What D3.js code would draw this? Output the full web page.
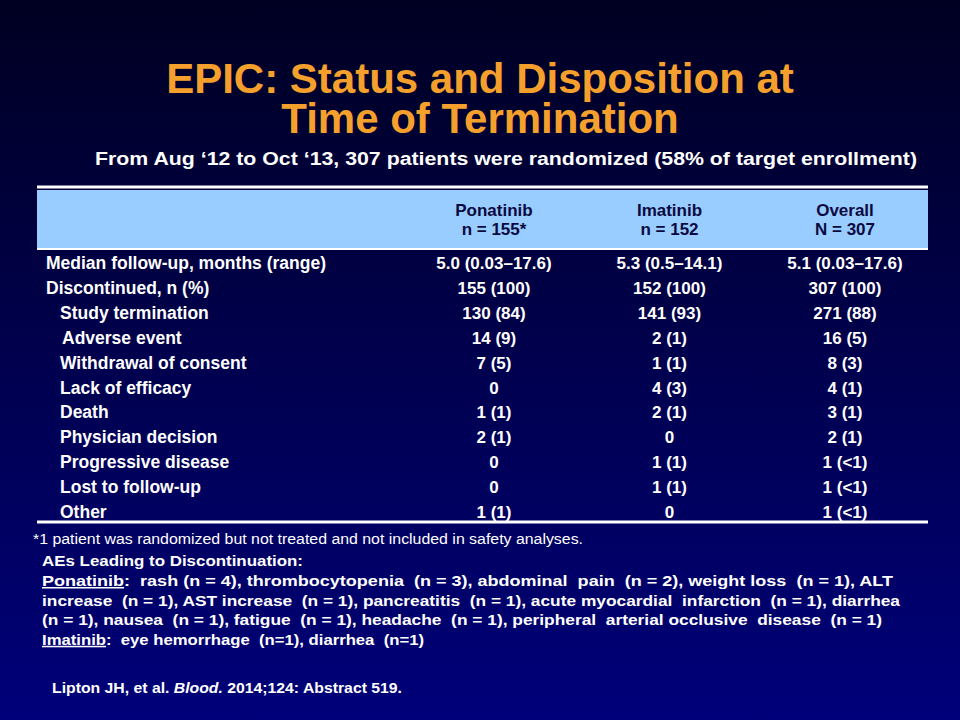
<!DOCTYPE html>
<html><head><meta charset="utf-8">
<script src="https://cdn.jsdelivr.net/npm/d3@7"></script>
<style>body{margin:0;background:#000}</style>
</head><body><div id="chart"></div>
<script>
var columns = ["Ponatinib", "Imatinib", "Overall"];
var columnNs = ["n = 155*", "n = 152", "N = 307"];
var rowLabels = ["Median follow-up, months (range)", "Discontinued, n (%)", "Study termination", "Adverse event",
  "Withdrawal of consent", "Lack of efficacy", "Death", "Physician decision", "Progressive disease", "Lost to follow-up", "Other"];
var rowIndent = [0, 0, 1, 1, 1, 1, 1, 1, 1, 1, 1];
var ponatinib = ["5.0 (0.03\u201317.6)", "155 (100)", "130 (84)", "14 (9)", "7 (5)", "0", "1 (1)", "2 (1)", "0", "0", "1 (1)"];
var imatinib = ["5.3 (0.5\u201314.1)", "152 (100)", "141 (93)", "2 (1)", "1 (1)", "4 (3)", "2 (1)", "0", "1 (1)", "1 (1)", "0"];
var overall = ["5.1 (0.03\u201317.6)", "307 (100)", "271 (88)", "16 (5)", "8 (3)", "4 (1)", "3 (1)", "2 (1)", "1 (<1)", "1 (<1)", "1 (<1)"];
var aeLines = [
  [["Ponatinib", true], [":  rash (n = 4), thrombocytopenia  (n = 3), abdominal  pain  (n = 2), weight loss  (n = 1), ALT", false]],
  [["increase  (n = 1), AST increase  (n = 1), pancreatitis  (n = 1), acute myocardial  infarction  (n = 1), diarrhea", false]],
  [["(n = 1), nausea  (n = 1), fatigue  (n = 1), headache  (n = 1), peripheral  arterial occlusive  disease  (n = 1)", false]],
  [["Imatinib", true], [":  eye hemorrhage  (n=1), diarrhea  (n=1)", false]]
];
var aeWidths = [851, 858, 840, 382];

var W = 960, H = 720, font = "'Liberation Sans', Arial, sans-serif";
var svg = d3.select("#chart").append("svg").attr("width", W).attr("height", H).style("font-family", font);
var grad = svg.append("defs").append("linearGradient").attr("id", "bg").attr("x1", 0).attr("y1", 0).attr("x2", 0).attr("y2", 1);
grad.append("stop").attr("offset", "0%").attr("stop-color", "#000022");
grad.append("stop").attr("offset", "100%").attr("stop-color", "#00007a");
svg.append("rect").attr("width", W).attr("height", H).attr("fill", "url(#bg)");

// title
svg.selectAll(".title").data(["EPIC: Status and Disposition at", "Time of Termination"]).enter().append("text")
  .attr("x", 480).attr("y", (d, i) => 93 + i * 40).attr("text-anchor", "middle")
  .attr("font-size", 42).attr("font-weight", "bold").attr("fill", "#F5A02C").text(d => d);
svg.append("text").attr("x", 95).attr("y", 165).attr("font-size", 17.5)
  .attr("font-weight", "bold").attr("fill", "#fff").attr("textLength", 822).attr("lengthAdjust", "spacingAndGlyphs")
  .text("From Aug \u201812 to Oct \u201813, 307 patients were randomized (58% of target enrollment)");

// table
var x0 = 37, x1 = 928;
var colX = d3.scalePoint().domain(columns).range([494, 845]);
var rowY = d3.scalePoint().domain(d3.range(rowLabels.length)).range([269, 518]);
svg.append("rect").attr("x", x0).attr("y", 190).attr("width", x1 - x0).attr("height", 58).attr("fill", "#99CCFF");
[187, 249, 522].forEach(y => svg.append("line").attr("x1", x0).attr("x2", x1).attr("y1", y).attr("y2", y)
  .attr("stroke", "#fff").attr("stroke-width", y === 249 ? 2 : 3));
columns.forEach((c, i) => {
  var t = svg.append("text").attr("text-anchor", "middle").attr("font-size", 17).attr("font-weight", "bold").attr("fill", "#0a0a40");
  t.append("tspan").attr("x", colX(c)).attr("y", 216).text(c);
  t.append("tspan").attr("x", colX(c)).attr("y", 235).text(columnNs[i]);
});
var vals = [ponatinib, imatinib, overall];
rowLabels.forEach((r, i) => {
  var y = rowY(i);
  svg.append("text").attr("x", rowIndent[i] ? (i === 3 ? 62 : 60) : 46).attr("y", y)
    .attr("font-size", 17.5).attr("font-weight", "bold").attr("fill", "#fff").text(r);
  columns.forEach((c, j) => svg.append("text").attr("x", colX(c)).attr("y", y).attr("text-anchor", "middle")
    .attr("font-size", 17).attr("font-weight", "bold").attr("fill", "#fff").text(vals[j][i]));
});

// notes
svg.append("text").attr("x", 33).attr("y", 544).attr("font-size", 14).attr("fill", "#fff")
  .attr("textLength", 550).attr("lengthAdjust", "spacingAndGlyphs")
  .text("*1 patient was randomized but not treated and not included in safety analyses.");
svg.append("text").attr("x", 42).attr("y", 566).attr("font-size", 15).attr("font-weight", "bold").attr("fill", "#fff")
  .attr("textLength", 261).attr("lengthAdjust", "spacingAndGlyphs")
  .text("AEs Leading  to Discontinuation:");
aeLines.forEach((parts, i) => {
  var t = svg.append("text").attr("x", 42).attr("y", 586 + i * 19.6).attr("font-size", 15).attr("font-weight", "bold")
    .attr("fill", "#fff").attr("xml:space", "preserve").style("white-space", "pre");
  t.attr("textLength", aeWidths[i]).attr("lengthAdjust", "spacingAndGlyphs");
  parts.forEach(p => t.append("tspan").attr("text-decoration", p[1] ? "underline" : null).text(p[0]));
});
var cite = svg.append("text").attr("x", 52).attr("y", 693).attr("font-size", 15).attr("font-weight", "bold").attr("fill", "#fff")
  .attr("textLength", 350).attr("lengthAdjust", "spacingAndGlyphs");
cite.append("tspan").text("Lipton JH, et al. ");
cite.append("tspan").attr("font-style", "italic").text("Blood.");
cite.append("tspan").text(" 2014;124: Abstract 519.");
</script></body></html>
